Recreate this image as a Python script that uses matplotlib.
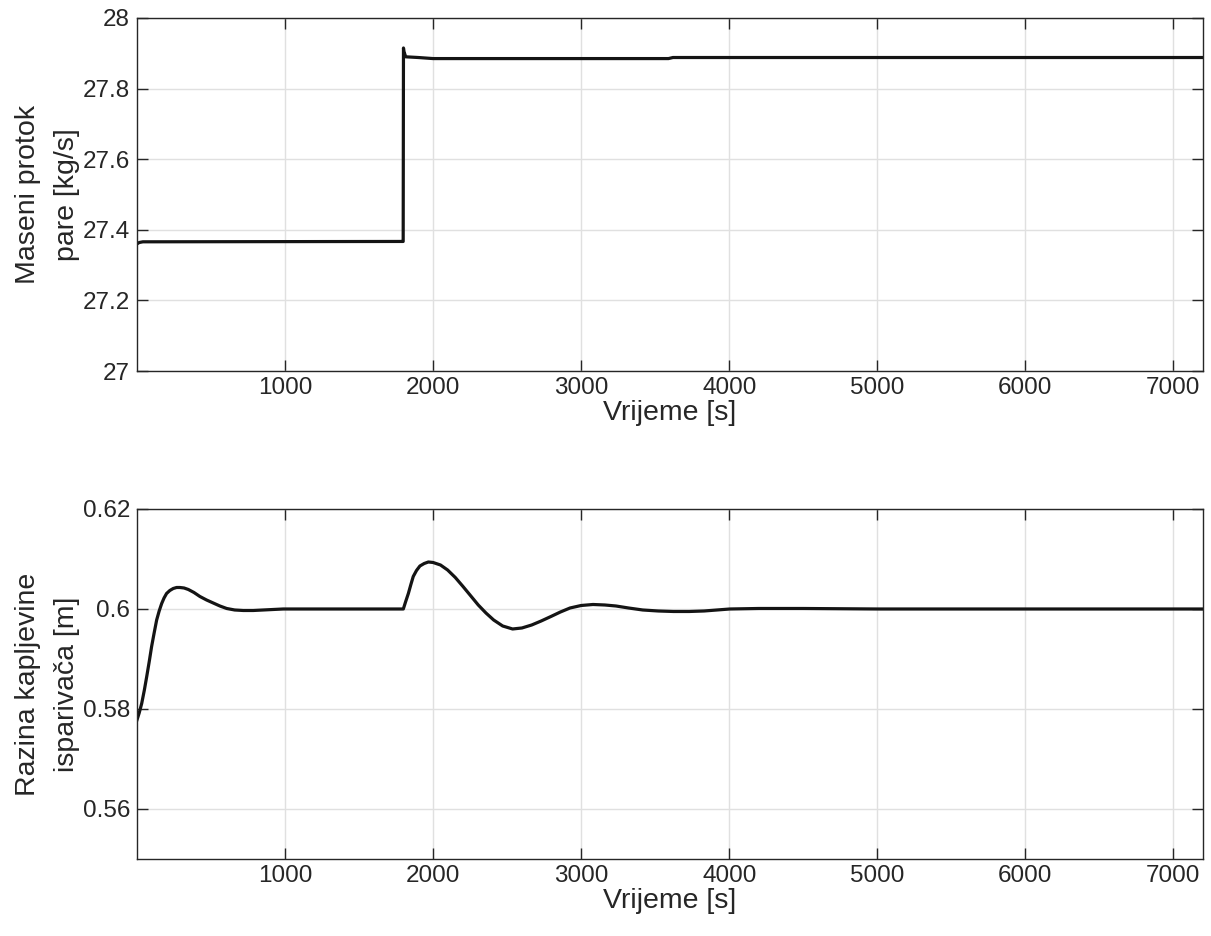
import matplotlib
matplotlib.use("Agg")
import matplotlib.pyplot as plt

plt.rcParams["font.family"] = ["Liberation Sans", "DejaVu Sans"]

# steam mass flow (top)
flowTime = [0, 15, 40, 1795, 1798, 1800, 1803, 1815, 1900, 2000, 2500, 3000, 3590, 3620, 5000, 7200]
flowValue = [27.360, 27.364, 27.366, 27.367, 27.367, 27.915, 27.905, 27.890, 27.888, 27.885, 27.885,
             27.885, 27.885, 27.888, 27.888, 27.888]

# evaporator liquid level (bottom)
levelTime = [0, 15, 32, 50, 66, 83, 99, 116, 133, 150, 167, 183, 200, 222, 245, 268, 290, 318,
             347, 385, 425, 470, 515, 560, 606, 660, 718, 785, 853, 920, 988, 1100, 1300, 1500,
             1700, 1799, 1815, 1833, 1850, 1866, 1888, 1911, 1940, 1968, 2000, 2050, 2098, 2150,
             2202, 2255, 2305, 2357, 2409, 2470, 2537, 2600, 2666, 2730, 2796, 2860, 2925, 3000,
             3080, 3160, 3235, 3320, 3416, 3520, 3623, 3730, 3830, 4005, 4200, 4500, 5000, 6000, 7200]
levelValue = [0.5778, 0.5792, 0.5811, 0.5838, 0.5865, 0.5895, 0.5925, 0.5952, 0.5978, 0.5996,
              0.6011, 0.6022, 0.6031, 0.6037, 0.6041, 0.6043, 0.6043, 0.6042, 0.6039, 0.6033,
              0.6025, 0.6018, 0.6012, 0.6006, 0.6001, 0.5998, 0.5997, 0.5997, 0.5998, 0.5999,
              0.6000, 0.6000, 0.6000, 0.6000, 0.6000, 0.6000, 0.6015, 0.6031, 0.6049, 0.6065,
              0.6077, 0.6086, 0.6091, 0.6094, 0.6093, 0.6088, 0.6078, 0.6063, 0.6045, 0.6026,
              0.6008, 0.5992, 0.5978, 0.5966, 0.5960, 0.5962, 0.5968, 0.5976, 0.5985, 0.5994,
              0.6002, 0.6007, 0.6009, 0.6008, 0.6006, 0.6002, 0.5998, 0.5996, 0.5995, 0.5995,
              0.5996, 0.6000, 0.6001, 0.6001, 0.6000, 0.6000, 0.6000]

xTicks = [1000, 2000, 3000, 4000, 5000, 6000, 7000]
LINE_COLOR = "#141414"
BOX_COLOR = "#262626"
TICK_SIZE = 17.5
LABEL_SIZE = 20.5

fig = plt.figure(figsize=(12.11, 9.36), dpi=100)
axTop = fig.add_axes([0.1131, 0.6036, 0.8803, 0.3772])
axBottom = fig.add_axes([0.1131, 0.0823, 0.8803, 0.3739])


def styleAxes(ax):
    ax.set_xlim(0, 7200)
    ax.set_xticks(xTicks)
    ax.grid(True, color="#e0e0e0", linewidth=1.0)
    ax.set_axisbelow(True)
    ax.tick_params(direction="in", top=True, right=True, length=8, width=1,
                   labelsize=TICK_SIZE, colors=BOX_COLOR)
    ax.tick_params(axis="x", pad=4)
    ax.tick_params(axis="y", pad=5)
    for spine in ax.spines.values():
        spine.set_color(BOX_COLOR)
        spine.set_linewidth(1)
    ax.set_xlabel("Vrijeme [s]", fontsize=LABEL_SIZE, color=BOX_COLOR, labelpad=1)


axTop.plot(flowTime, flowValue, color=LINE_COLOR, linewidth=2.3)
styleAxes(axTop)
axTop.set_ylim(27, 28)
axTop.set_yticks([27, 27.2, 27.4, 27.6, 27.8, 28])
axTop.set_yticklabels(["27", "27.2", "27.4", "27.6", "27.8", "28"])
axTop.set_ylabel("Maseni protok\npare [kg/s]", fontsize=LABEL_SIZE, color=BOX_COLOR,
                 linespacing=1.65, labelpad=2)

axBottom.plot(levelTime, levelValue, color=LINE_COLOR, linewidth=2.3)
styleAxes(axBottom)
axBottom.set_ylim(0.55, 0.62)
axBottom.set_yticks([0.56, 0.58, 0.60, 0.62])
axBottom.set_yticklabels(["0.56", "0.58", "0.6", "0.62"])
axBottom.set_ylabel("Razina kapljevine\nisparivača [m]", fontsize=LABEL_SIZE, color=BOX_COLOR,
                    linespacing=1.65, labelpad=2)

fig.savefig("out.png", dpi=100)
